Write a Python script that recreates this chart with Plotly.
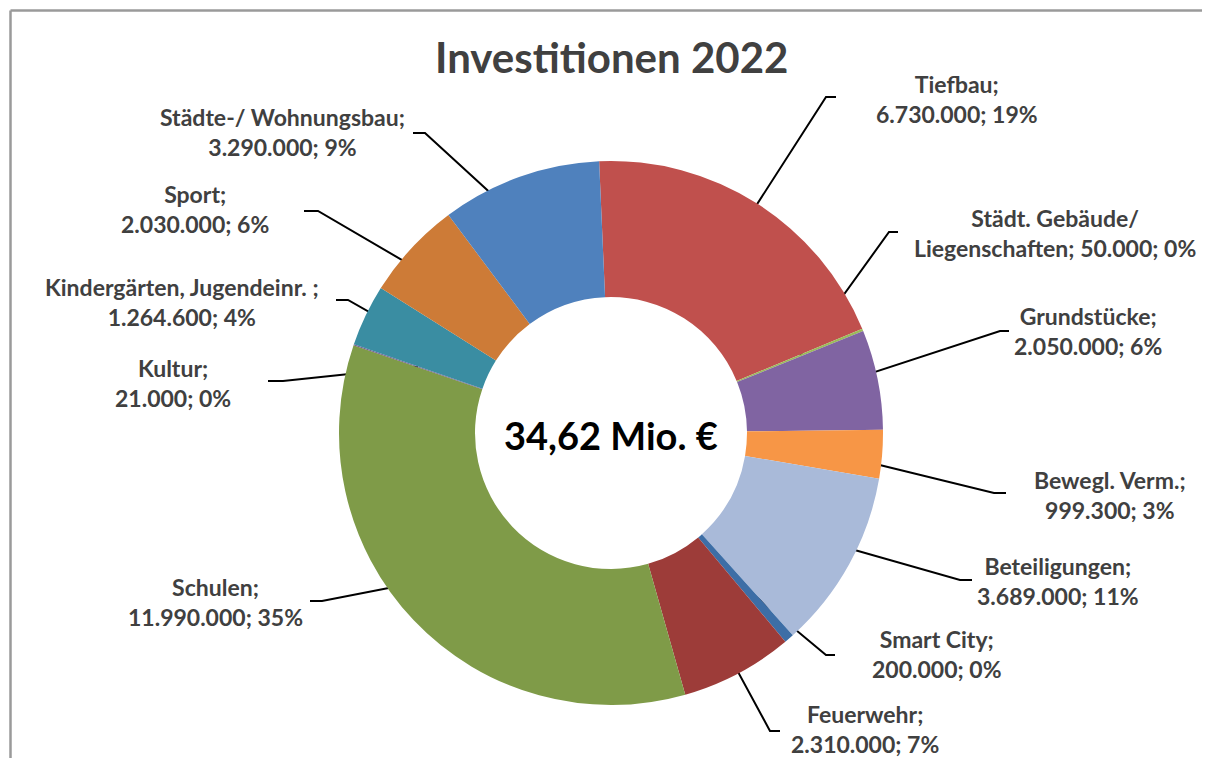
import math
import plotly.graph_objects as go

# ---------------- data ----------------
categories = [
    "Tiefbau",
    "Städt. Gebäude/Liegenschaften",
    "Grundstücke",
    "Bewegl. Verm.",
    "Beteiligungen",
    "Smart City",
    "Feuerwehr",
    "Schulen",
    "Kultur",
    "Kindergärten, Jugendeinr. ",
    "Sport",
    "Städte-/ Wohnungsbau",
]
values = [6730000, 50000, 2050000, 999300, 3689000, 200000,
          2310000, 11990000, 21000, 1264600, 2030000, 3290000]
percent_labels = [19, 0, 6, 3, 11, 0, 7, 35, 0, 4, 6, 9]
title_text = "Investitionen 2022"
center_text = "34,62 Mio. €"

# ---------------- styles / layout ----------------
colors = ["#C0504D", "#9BBB59", "#8064A2", "#F79646", "#A9BAD9", "#3D6EA6",
          "#9D3C39", "#7F9B48", "#6E5791", "#3A8DA2", "#CD7B37", "#4F81BD"]

OFF = 8                            # body margin of the html page
W, H = 1210 - 2 * OFF, 766 - 2 * OFF   # figure fits the window exactly
CX, CY, R = 611, 433, 272          # pie centre / outer radius in screen pixels
HOLE = 0.5
ROTATION = -2.5
LEADER_R = 0.75                    # leader line starts at this fraction of R

# label placement (screen pixels): label centre, leader elbow, leader tail end x
label_pos = [(957, 99), (1055, 233), (1088, 331), (1110, 495), (1058, 581),
             (937, 654), (865, 729), (215, 602), (173, 383), (182, 302),
             (195, 209), (282, 132)]
elbow_pos = [(826, 97), (889, 232), (1000, 331), (994, 493), (960, 580),
             (826, 655), (770, 731), (322, 601), (283, 381), (348, 300),
             (318, 211), (425, 133)]
tail_x = [836, 898, 1009, 1006, 972, 835, 780, 310, 268, 336, 304, 413]
wrap_after = {"Städt. Gebäude/Liegenschaften": "Städt. Gebäude/"}

TEXT_COLOR = "#404040"
FONT = "Lato"


def px(x):
    return (x - OFF) / W


def py(y):
    return 1 - (y - OFF) / H


def fmt_de(v):
    return f"{v:,.0f}".replace(",", ".")


def label_text(name, v, p):
    tail = f"{fmt_de(v)}; {p}%"
    if name in wrap_after:
        first = wrap_after[name]
        rest = name[len(first):]
        return f"{first}<br>{rest}; {tail}"
    return f"{name};<br>{tail}"


fig = go.Figure()

fig.add_trace(go.Pie(
    labels=categories,
    values=values,
    sort=False,
    direction="clockwise",
    rotation=ROTATION,
    hole=HOLE,
    marker=dict(colors=colors, line=dict(width=0)),
    textinfo="none",
    showlegend=False,
    domain=dict(x=[px(CX - R), px(CX + R)],
                y=[py(CY + R), py(CY - R)]),
))

# leader lines: start point derived from each slice's mid angle
total = sum(values)
angle = ROTATION
for i, v in enumerate(values):
    span = v / total * 360.0
    mid = math.radians(angle + span / 2)
    angle += span
    sx = CX + LEADER_R * R * math.sin(mid)
    sy = CY - LEADER_R * R * math.cos(mid)
    ex, ey = elbow_pos[i]
    fig.add_trace(go.Scatter(
        x=[sx - OFF, ex - OFF, tail_x[i] - OFF],
        y=[sy - OFF, ey - OFF, ey - OFF],
        mode="lines", line=dict(color="#000000", width=2),
        hoverinfo="skip", showlegend=False,
        xaxis="x", yaxis="y",
    ))

annotations = []
for i, name in enumerate(categories):
    lx, ly = label_pos[i]
    annotations.append(dict(
        x=px(lx), y=py(ly), xref="paper", yref="paper",
        xanchor="center", yanchor="middle", align="center",
        text=label_text(name, values[i], percent_labels[i]),
        showarrow=False,
        font=dict(family=FONT, size=23, color=TEXT_COLOR, weight="bold"),
    ))

annotations.append(dict(
    x=px(CX), y=py(57), xref="paper", yref="paper",
    xanchor="center", yanchor="middle", text=title_text, showarrow=False,
    font=dict(family=FONT, size=42, color=TEXT_COLOR, weight="bold"),
))
annotations.append(dict(
    x=px(CX), y=py(435), xref="paper", yref="paper",
    xanchor="center", yanchor="middle", text=center_text, showarrow=False,
    font=dict(family=FONT, size=38, color="#000000", weight="bold"),
))

border = dict(color="#9A9A9A", width=2.5)
fig.update_layout(
    width=W, height=H,
    margin=dict(l=0, r=0, t=0, b=0),
    paper_bgcolor="white", plot_bgcolor="rgba(0,0,0,0)",
    xaxis=dict(range=[0, W], domain=[0, 1], visible=False, fixedrange=True),
    yaxis=dict(range=[H, 0], domain=[0, 1], visible=False, fixedrange=True),
    annotations=annotations,
    shapes=[
        dict(type="line", xref="paper", yref="paper",
             x0=px(10.5), y0=py(10.5), x1=1.2, y1=py(10.5), line=border),
        dict(type="line", xref="paper", yref="paper",
             x0=px(10.5), y0=py(10.5), x1=px(10.5), y1=-0.2, line=border),
    ],
)

fig.write_html("out.html")
